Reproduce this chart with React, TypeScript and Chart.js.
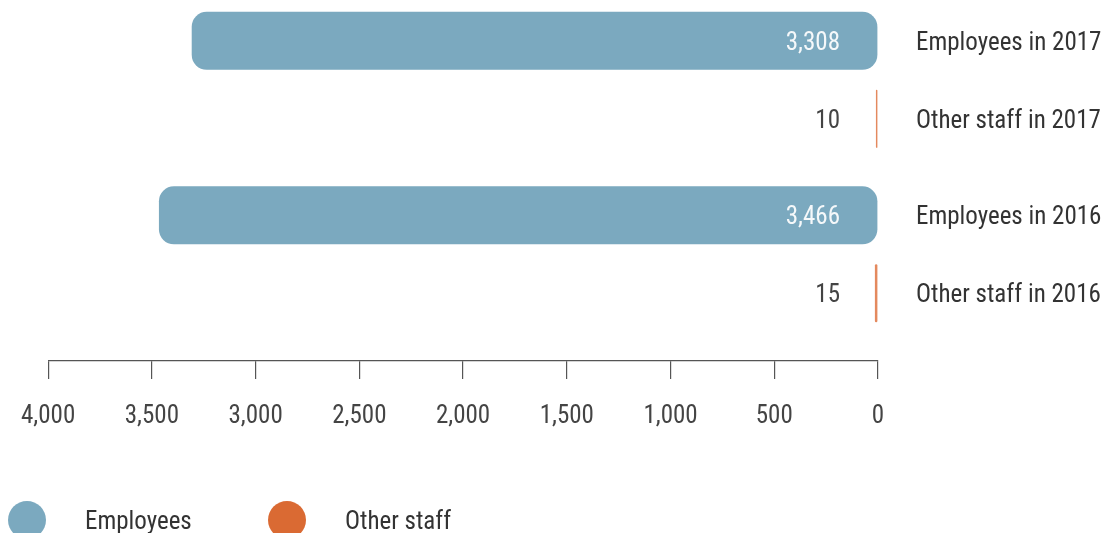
import { useEffect, useRef } from 'react';
import { Chart, registerables } from 'chart.js';

Chart.register(...registerables);

// ---- data ----
const years = ['2017', '2016'];
const seriesNames = ['Employees', 'Other staff'];
const employees = [3308, 3466];
const otherStaff = [10, 15];
const xMin = 0;
const xMax = 4000;
const xStep = 500;

// ---- styles ----
const FONT = "'Roboto Condensed', 'Open Sans Condensed', 'DejaVu Sans Condensed', sans-serif";
const BLUE = '#7BA9BF';
const ORANGE_BAR = '#E4895E';
const ORANGE_LEGEND = '#DA6A33';
const TEXT = '#333333';
const AXIS = '#555555';
const TEXT_SHIFT = 2.5;

const barLabels = {
  id: 'barLabels',
  afterDatasetsDraw(chart: any) {
    const ctx = chart.ctx;
    const base = chart.scales.x.getPixelForValue(0);
    chart.data.datasets.forEach((ds: any, di: number) => {
      const meta = chart.getDatasetMeta(di);
      meta.data.forEach((bar: any, i: number) => {
        const y = bar.y + TEXT_SHIFT;
        ctx.save();
        ctx.font = `25px ${FONT}`;
        ctx.textBaseline = 'middle';
        ctx.textAlign = 'right';
        ctx.fillStyle = di === 0 ? 'rgba(255,255,255,0.92)' : '#444444';
        ctx.fillText(Number(ds.data[i].x).toLocaleString('en-US'), base - 38, y);
        ctx.textAlign = 'left';
        ctx.fillStyle = TEXT;
        ctx.fillText(`${ds.label} in ${years[i]}`, base + 38, y);
        ctx.restore();
      });
    });
  },
};

const circleLegend = {
  id: 'circleLegend',
  afterDraw(chart: any) {
    const ctx = chart.ctx;
    const colors = [BLUE, ORANGE_LEGEND];
    const cy = 520;
    chart.data.datasets.forEach((ds: any, di: number) => {
      const cx = 27 + di * 260;
      ctx.save();
      ctx.beginPath();
      ctx.arc(cx, cy, 19, 0, Math.PI * 2);
      ctx.fillStyle = colors[di];
      ctx.fill();
      ctx.font = `25px ${FONT}`;
      ctx.textBaseline = 'middle';
      ctx.textAlign = 'left';
      ctx.fillStyle = TEXT;
      ctx.fillText(ds.label, cx + 58, cy + TEXT_SHIFT);
      ctx.restore();
    });
  },
};

export default function App() {
  const ref = useRef<HTMLCanvasElement | null>(null);

  useEffect(() => {
    if (!ref.current) return;
    const chart = new Chart(ref.current, {
      type: 'bar',
      data: {
        datasets: [
          {
            label: seriesNames[0],
            data: years.map((_, i) => ({ x: employees[i], y: i })),
            backgroundColor: BLUE,
            borderRadius: 15,
            borderSkipped: false,
          },
          {
            label: seriesNames[1],
            data: years.map((_, i) => ({ x: otherStaff[i], y: i })),
            backgroundColor: ORANGE_BAR,
            borderRadius: 15,
            borderSkipped: false,
          },
        ],
      },
      options: {
        indexAxis: 'y',
        animation: false,
        responsive: true,
        maintainAspectRatio: false,
        datasets: { bar: { categoryPercentage: 0.894, barPercentage: 0.744 } },
        layout: { padding: { left: 48, right: 228, top: 0, bottom: 78 } },
        plugins: { legend: { display: false }, tooltip: { enabled: false } },
        scales: {
          x: {
            type: 'linear',
            reverse: true,
            min: xMin,
            max: xMax,
            border: { display: true, color: AXIS, width: 1.2 },
            grid: { drawOnChartArea: false, drawTicks: true, tickLength: 18, color: AXIS, lineWidth: 1.2 },
            ticks: {
              stepSize: xStep,
              padding: 21,
              color: '#444444',
              font: { family: FONT, size: 25, lineHeight: 1.36 },
              maxRotation: 0,
              autoSkip: false,
            },
          },
          y: {
            type: 'linear',
            display: false,
            reverse: true,
            offset: false,
            grid: { offset: false },
            bounds: 'data',
            min: -0.4576,
            max: 1.6112,
            afterBuildTicks: (scale: any) => {
              scale.ticks = years.map((_, i) => ({ value: i }));
            },
          },
        },
      },
      plugins: [barLabels, circleLegend],
    });
    return () => chart.destroy();
  }, []);

  return (
    <div style={{ position: 'fixed', left: 0, top: 0, width: 1106, height: 533, background: '#ffffff' }}>
      <canvas ref={ref} />
    </div>
  );
}
